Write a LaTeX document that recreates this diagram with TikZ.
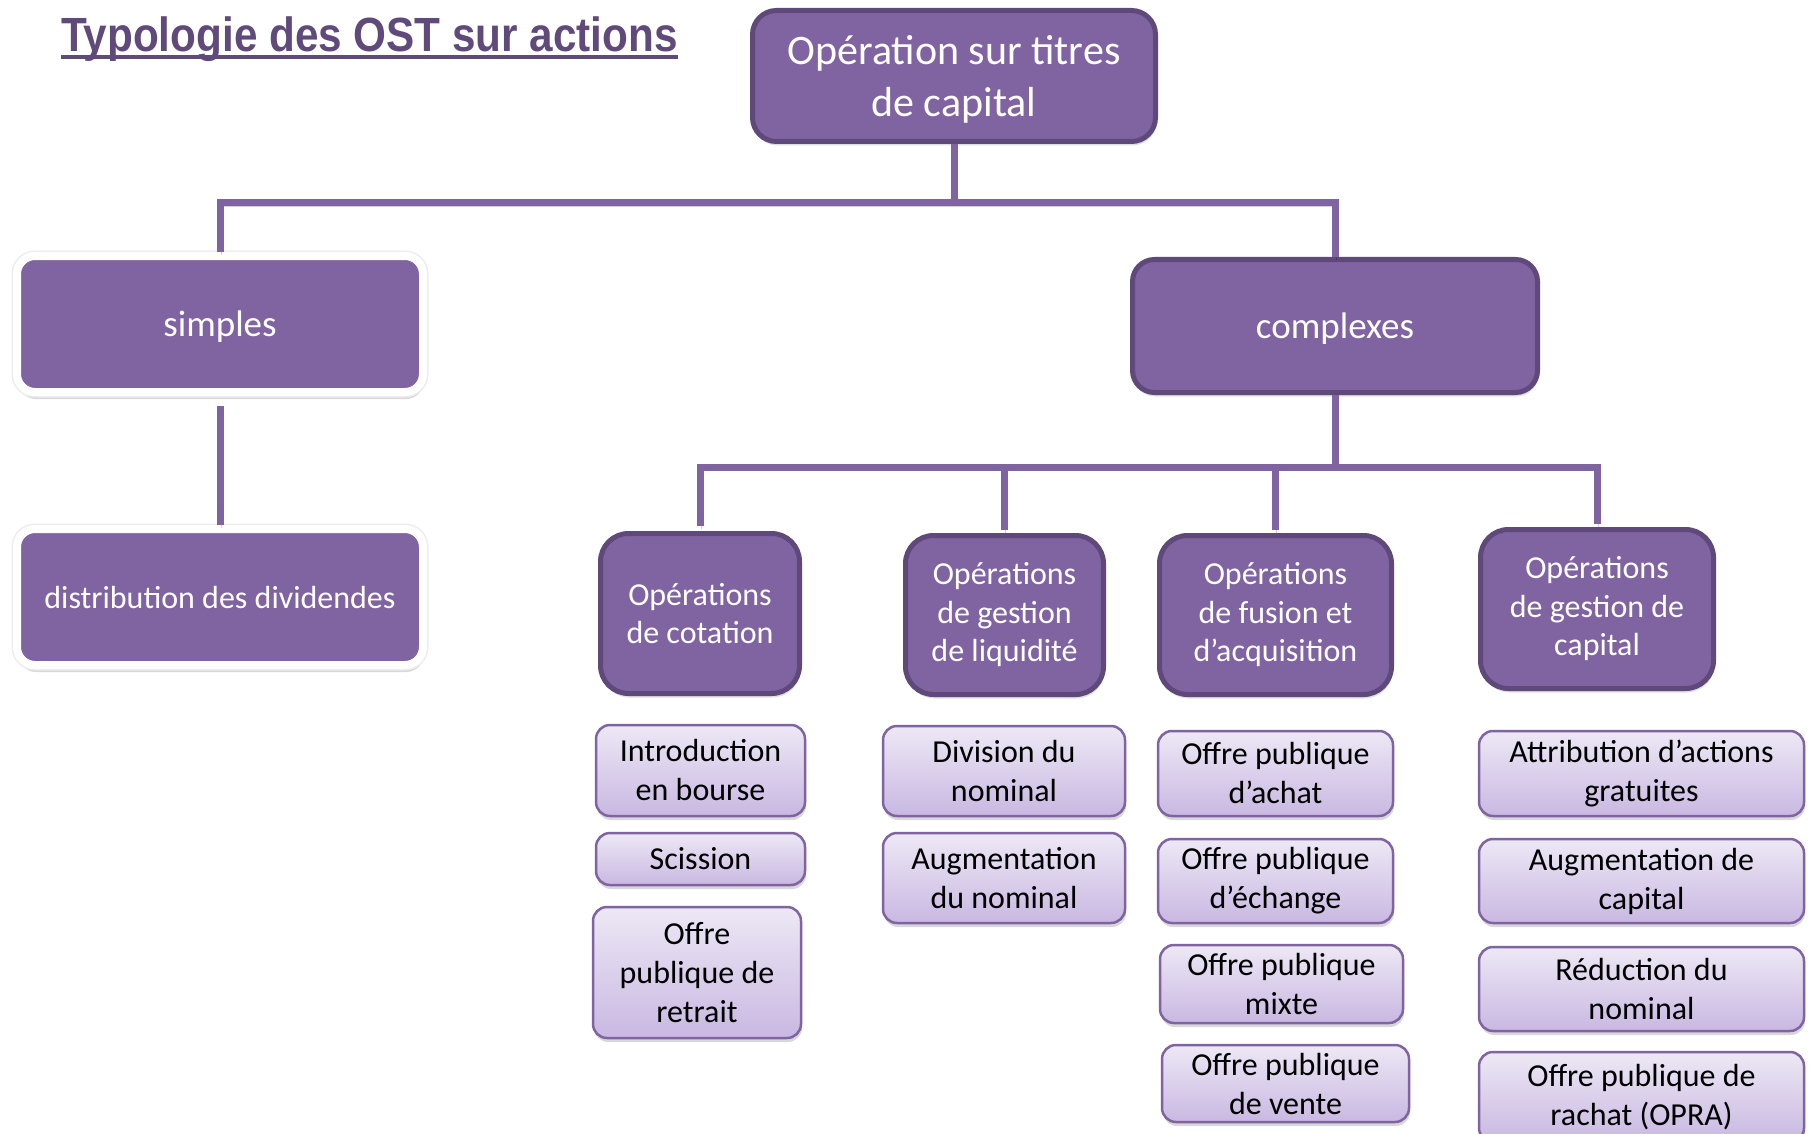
\documentclass[tikz,border=0pt]{standalone}
\usepackage{fontspec}
\setmainfont{Carlito}
\newfontfamily\titlefont{Liberation Sans}
\usetikzlibrary{shadows}
\definecolor{pfill}{HTML}{8064A2}
\definecolor{pdark}{HTML}{5F497A}
\definecolor{leaftop}{HTML}{EDE8F5}
\definecolor{leafbot}{HTML}{C9B8E2}
\definecolor{titlecol}{HTML}{5F4A7B}
\begin{document}
\begin{tikzpicture}[x=1pt,y=-1pt,
  mainbox/.style={rounded corners=24pt, fill=pfill, draw=pdark, line width=5pt, text=white, align=center, inner sep=0pt,
    drop shadow={opacity=0.25, shadow xshift=1pt, shadow yshift=-4pt}},
  midbox/.style={mainbox, rounded corners=28pt, font=\fontsize{32}{38.5}\selectfont},
  wbox/.style={rounded corners=18pt, fill=pfill, draw=white, line width=8pt, text=white, align=center, inner sep=0pt,
    text depth=0pt,
    drop shadow={opacity=0.3, shadow xshift=1pt, shadow yshift=-7pt},
    preaction={draw=black!7, line width=11pt}},
  leaf/.style={rounded corners=14pt, top color=leaftop, bottom color=leafbot, draw=pfill, line width=2.5pt, text=black,
    align=center, inner sep=0pt, font=\fontsize{32}{39}\selectfont,
    drop shadow={opacity=0.3, shadow xshift=1pt, shadow yshift=-4pt}},
  conn/.style={draw=pfill, line width=7pt,
    preaction={draw=black, opacity=0.18, transform canvas={shift={(1pt,-3pt)}}}}
]
\fill[white] (0,0) rectangle (1810,1134);
\useasboundingbox (0,0) rectangle (1810,1134);

% title
\node[anchor=base west, text=titlecol, inner sep=0pt] (title) at (61,52)
  {\scalebox{0.88}[1]{\titlefont\bfseries\fontsize{48}{58}\selectfont Typologie des OST sur actions}};
\draw[titlecol, line width=4pt] ([yshift=-5pt]title.base west) -- ([yshift=-5pt]title.base east);

% level 1
\node[mainbox, text depth=0pt, minimum width=403pt, minimum height=131pt, font=\fontsize{42}{52}\selectfont] (top) at (954,76)
  {Opération sur titres\\de capital};

% level 2
\node[wbox, minimum width=406pt, minimum height=136pt, font=\fontsize{37}{44}\selectfont] (simples) at (220,324) {simples};
\node[wbox, minimum width=406pt, minimum height=136pt, font=\fontsize{32}{38}\selectfont] (dist) at (220,597) {distribution des dividendes};
\node[mainbox, text depth=0pt, rounded corners=22pt, minimum width=405pt, minimum height=133pt, font=\fontsize{37}{44}\selectfont] (complexes) at (1335,326) {complexes};

% level 3
\node[midbox, minimum width=199pt, minimum height=160pt] (cot) at (700,613.5) {Opérations\\de cotation};
\node[midbox, minimum width=198pt, minimum height=159pt] (liq) at (1004.5,615) {Opérations\\de gestion\\de liquidité};
\node[midbox, minimum width=232pt, minimum height=159pt] (fus) at (1275.5,615) {Opérations\\de fusion et\\d’acquisition};
\node[midbox, minimum width=233pt, minimum height=159pt] (cap) at (1597,609) {Opérations\\de gestion de\\capital};

% leaves
\node[leaf, minimum width=209pt, minimum height=91pt] (intro) at (700.5,770.5) {Introduction\\en bourse};
\node[leaf, minimum width=209pt, minimum height=52pt] (sciss) at (700.5,859) {Scission};
\node[leaf, minimum width=208pt, minimum height=131pt] (opr) at (697,972.5) {Offre\\publique de\\retrait};
\node[leaf, minimum width=242pt, minimum height=90pt] (divn) at (1004,771) {Division du\\nominal};
\node[leaf, minimum width=242pt, minimum height=90pt] (augn) at (1004,878) {Augmentation\\du nominal};
\node[leaf, minimum width=235pt, minimum height=85pt] (opa) at (1275.5,773.5) {Offre publique\\d’achat};
\node[leaf, minimum width=235pt, minimum height=84pt] (ope) at (1275.5,881) {Offre publique\\d’échange};
\node[leaf, minimum width=243pt, minimum height=78pt] (opm) at (1281.5,984) {Offre publique\\mixte};
\node[leaf, minimum width=247pt, minimum height=77pt] (opv) at (1285.5,1083.5) {Offre publique\\de vente};
\node[leaf, minimum width=325pt, minimum height=85pt] (attr) at (1641.5,773.5) {Attribution d’actions\\gratuites};
\node[leaf, minimum width=325pt, minimum height=84pt] (augc) at (1641.5,881) {Augmentation de\\capital};
\node[leaf, minimum width=325pt, minimum height=84pt] (redn) at (1641.5,989) {Réduction du\\nominal};
\node[leaf, minimum width=325pt, minimum height=90pt] (opra) at (1641.5,1097) {Offre publique de\\rachat (OPRA)};

% connectors
\coordinate (bus1) at (0,203);
\coordinate (bus2) at (0,467);
\draw[conn] (top.south) -- (top.south |- bus1);
\draw[conn] (simples.north) -- (simples.north |- bus1) -- (complexes.north |- bus1) -- (complexes.north);
\draw[conn] ([yshift=-10pt]simples.south) -- (dist.north);
\draw[conn] (complexes.south) -- (complexes.south |- bus2);
\draw[conn] ([yshift=5pt]cot.north) -- (cot.north |- bus2) -- (cap.north |- bus2) -- ([yshift=3pt]cap.north);
\draw[conn] (liq.north |- bus2) -- ([yshift=3pt]liq.north);
\draw[conn] (fus.north |- bus2) -- ([yshift=3pt]fus.north);
\end{tikzpicture}
\end{document}
